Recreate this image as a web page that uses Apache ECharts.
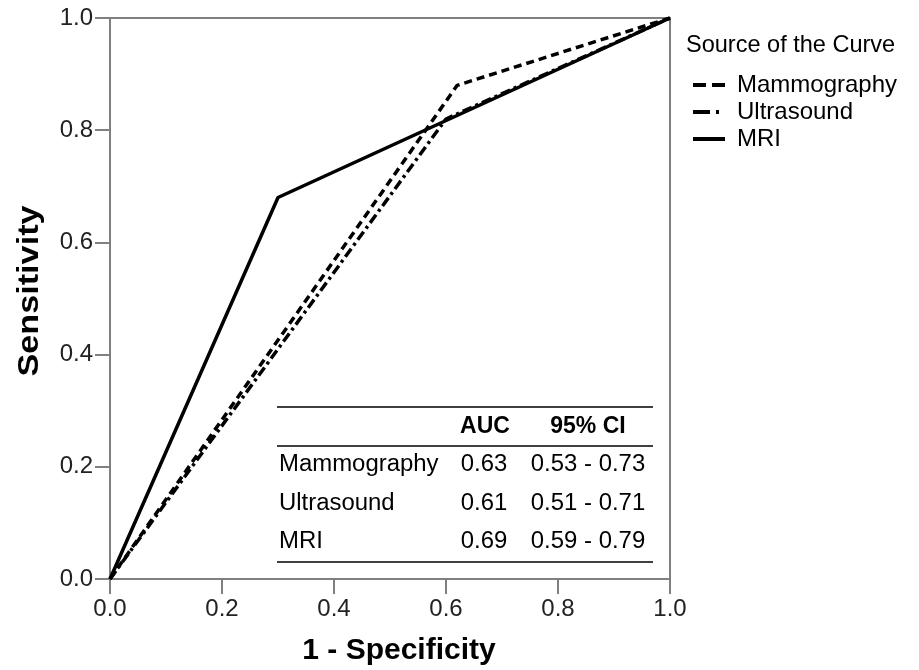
<!DOCTYPE html>
<html>
<head>
<meta charset="utf-8">
<script src="https://cdn.jsdelivr.net/npm/echarts@6/dist/echarts.min.js"></script>
<style>
html, body { margin: 0; padding: 0; background: #fff; }
#main { width: 919px; height: 670px; }
</style>
</head>
<body>
<div id="main"></div>
<script>
// ROC 曲线数据
var mammography = [[0, 0], [0.62, 0.88], [1, 1]];
var ultrasound = [[0, 0], [0.6, 0.82], [1, 1]];
var mri = [[0, 0], [0.3, 0.68], [1, 1]];
var tickLabels = ["0.0", "0.2", "0.4", "0.6", "0.8", "1.0"];

// 表格数据
var tableNames = ["Mammography", "Ultrasound", "MRI"];
var tableAuc = ["0.63", "0.61", "0.69"];
var tableCiLow = ["0.53", "0.51", "0.59"];
var tableCiHigh = ["0.73", "0.71", "0.79"];

var font = "Liberation Sans, Arial, sans-serif";
var dashM = [8, 5];
var dashU = [10, 4, 3, 4];

var myChart = echarts.init(document.getElementById("main"));

// 图例、表格、轴标题 用 graphic 画
var graphics = [];
function txt(x, y, s, size, opt) {
	opt = opt || {};
	graphics.push({
		type: "text", x: x, y: y, rotation: opt.rotation || 0, scaleX: opt.scaleX || 1,
		style: {
			text: s, font: (opt.bold ? "bold " : "") + size + "px " + font, fill: "#000",
			textAlign: opt.align || "left", textVerticalAlign: "middle"
		}
	});
}
txt(686, 45, "Source of the Curve", 24, { scaleX: 0.98 });
var legendNames = ["Mammography", "Ultrasound", "MRI"];
var legendDash = [[13, 6], [17, 6, 3, 50], null];
for (var i = 0; i < legendNames.length; i++) {
	var ly = 85 + i * 27;
	graphics.push({
		type: "line", shape: { x1: 693, y1: ly, x2: 725, y2: ly },
		style: { stroke: "#000", lineWidth: 4, lineDash: legendDash[i] }
	});
	txt(737, ly, legendNames[i], 24);
}
// 表格线
[407, 446, 562].forEach(function (y) {
	graphics.push({ type: "line", shape: { x1: 277, y1: y, x2: 653, y2: y }, style: { stroke: "#000", lineWidth: 1.5 } });
});
txt(485, 427, "AUC", 23, { bold: true, align: "center" });
txt(588, 427, "95% CI", 23, { bold: true, align: "center" });
for (var r = 0; r < tableNames.length; r++) {
	var ty = 465 + r * 38.5;
	txt(279, ty, tableNames[r], 23, { scaleX: 1.04 });
	txt(484, ty, tableAuc[r], 23, { align: "center", scaleX: 1.04 });
	txt(588, ty, tableCiLow[r] + " - " + tableCiHigh[r], 23, { align: "center", scaleX: 1.04 });
}
// 轴标题
txt(399, 651, "1 - Specificity", 30, { bold: true, align: "center" });
txt(30, 291, "Sensitivity", 29, { bold: true, align: "center", rotation: Math.PI / 2, scaleX: 1.18 });

function axisCfg(isY) {
	return {
		type: "value",
		min: 0, max: 1, interval: 0.2,
		axisLine: { show: true, lineStyle: { color: "#808080", width: 2 } },
		axisTick: { show: true, length: 15, lineStyle: { color: "#808080", width: 2 } },
		splitLine: { show: false },
		axisLabel: {
			fontFamily: font, fontSize: 24, color: "#222", margin: isY ? 17 : 18,
			formatter: function (v) { return tickLabels[Math.round(v / 0.2)]; }
		}
	};
}

function lineSeries(name, data, type, width) {
	return {
		name: name, type: "line", data: data, symbol: "none", silent: true,
		lineStyle: { color: "#000", width: width, type: type }
	};
}

var option = {
	animation: false,
	backgroundColor: "#fff",
	grid: {
		left: 110, right: 249, top: 18, bottom: 91, containLabel: false, outerBoundsMode: "none",
		show: true, borderColor: "#808080", borderWidth: 2
	},
	xAxis: axisCfg(false),
	yAxis: axisCfg(true),
	series: [
		lineSeries("Mammography", mammography, dashM, 3.5),
		lineSeries("Ultrasound", ultrasound, dashU, 3.5),
		lineSeries("MRI", mri, "solid", 3.5)
	],
	graphic: graphics
};
myChart.setOption(option);
</script>
</body>
</html>
